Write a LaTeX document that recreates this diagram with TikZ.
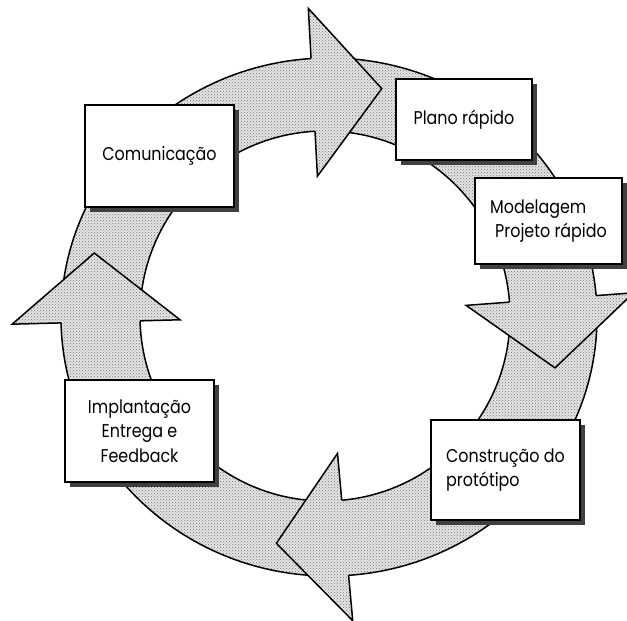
\documentclass[tikz,border=0pt]{standalone}
\usepackage{fontspec}
\setmainfont{Poppins}[FakeStretch=0.86]
\usetikzlibrary{calc,patterns,shadows}
\tikzset{
  ringfill/.style={preaction={fill=black!10, even odd rule}, pattern=crosshatch dots, pattern color=black!55},
  ringline/.style={draw=black, line width=1.5pt, line join=miter},
  stagebox/.style={draw=black, line width=1.7pt, fill=white, rectangle, inner sep=0pt,
    font=\fontsize{18.5}{24.5}\selectfont,
    general shadow={fill=black!75, draw=none, shadow xshift=5pt, shadow yshift=-5pt}},
}
% #1 angle of the base, #2 radius of the middle line, #3 radius of the outer edge there
\newcommand\ringhead[3]{%
  \fill[ringfill] (#1:#2-84) -- ($(#1:#2)+(#1-90:69)$) -- (#1:#2+84) -- cycle;
  \draw[ringline] (#1:185) -- (#1:#2-84) -- ($(#1:#2)+(#1-90:69)$) -- (#1:#2+84) -- (#1:#3);
}
\begin{document}
\begin{tikzpicture}[x=1pt,y=1pt]
\useasboundingbox (-325,-305) rectangle (302,316);
% ring
\fill[ringfill, even odd rule] (4,-1) ellipse[x radius=268, y radius=259] (0,0) circle[radius=185];
\draw[ringline] (4,-1) ellipse[x radius=268, y radius=259];
\draw[ringline] (0,0) circle[radius=185];
% arrow heads
\ringhead{93.1}{224}{258}
\ringhead{4.3}{225.5}{272}
\ringhead{-84.8}{222}{260}
\ringhead{181.5}{229}{264}
% boxes
\node[stagebox, minimum width=149pt, minimum height=102pt] (com) at (-165.5,160) {Comunicação};
\node[stagebox, minimum width=136pt, minimum height=81pt] (plano) at (139,196.5) {Plano rápido};
\node[stagebox, minimum width=147pt, minimum height=86pt, align=left] (model) at (223.5,95) {Modelagem\\\hspace{5pt}Projeto rápido};
\node[stagebox, minimum width=149pt, minimum height=100pt, align=left] (constr) at (180.5,-154) {Construção do\\protótipo};
\node[stagebox, minimum width=149pt, minimum height=102pt, align=center] (impl) at (-185.5,-115) {Implantação\\Entrega e\\Feedback};
\end{tikzpicture}
\end{document}
